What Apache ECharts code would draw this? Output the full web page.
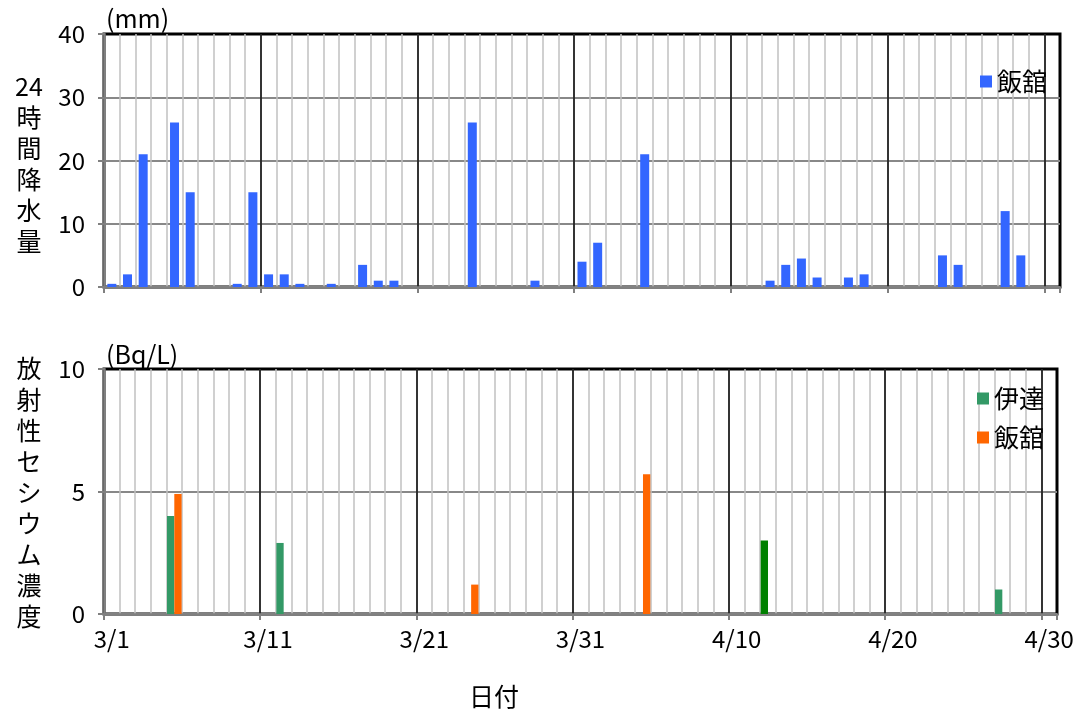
<!DOCTYPE html>
<html>
<head>
<meta charset="utf-8">
<script src="https://cdn.jsdelivr.net/npm/echarts@6/dist/echarts.min.js"></script>
<style>
html,body{margin:0;padding:0;background:#fff;}
#chart{width:1083px;height:711px;}
</style>
</head>
<body>
<div id="chart"></div>
<script>
// ---- data ----
const days = [
  '3/1','3/2','3/3','3/4','3/5','3/6','3/7','3/8','3/9','3/10',
  '3/11','3/12','3/13','3/14','3/15','3/16','3/17','3/18','3/19','3/20',
  '3/21','3/22','3/23','3/24','3/25','3/26','3/27','3/28','3/29','3/30',
  '3/31','4/1','4/2','4/3','4/4','4/5','4/6','4/7','4/8','4/9',
  '4/10','4/11','4/12','4/13','4/14','4/15','4/16','4/17','4/18','4/19',
  '4/20','4/21','4/22','4/23','4/24','4/25','4/26','4/27','4/28','4/29',
  '4/30'
];
// 24-hour precipitation at Iitate (mm)
const rainIitate = [
  0.5, 2, 21, 0, 26, 15, 0, 0, 0.5, 15,
  2, 2, 0.5, 0, 0.5, 0, 3.5, 1, 1, 0,
  0, 0, 0, 26, 0, 0, 0, 1, 0, 0,
  4, 7, 0, 0, 21, 0, 0, 0, 0, 0,
  0, 0, 1, 3.5, 4.5, 1.5, 0, 1.5, 2, 0,
  0, 0, 0, 5, 3.5, 0, 0, 12, 5, 0,
  0
];
// radioactive cesium concentration (Bq/L)
const csDate = [
  null, null, null, null, 4.0, null, null, null, null, null,
  null, 2.9, null, null, null, null, null, null, null, null,
  null, null, null, null, null, null, null, null, null, null,
  null, null, null, null, null, null, null, null, null, null,
  null, null, 3.0, null, null, null, null, null, null, null,
  null, null, null, null, null, null, null, 1.0, null, null,
  null
];
const csIitate = [
  null, null, null, null, 4.9, null, null, null, null, null,
  null, null, null, null, null, null, null, null, null, null,
  null, null, null, 1.2, null, null, null, null, null, null,
  null, null, null, null, 5.7, null, null, null, null, null,
  null, null, null, null, null, null, null, null, null, null,
  null, null, null, null, null, null, null, null, null, null,
  null
];
const seriesNames = ['飯舘', '伊達', '飯舘'];
const rainTicks = {min: 0, max: 40, interval: 10};
const csTicks = {min: 0, max: 10, interval: 5};

// ---- chart ----
const FONT = '"Noto Sans CJK JP", "Noto Sans", sans-serif';
const darkGreenIndex = 42; // 4/12 bar drawn in a darker green in the original

function xAxes(gridIndex, showLabels) {
  return [
    {
      type: 'category', gridIndex, data: days, position: 'bottom', boundaryGap: true,
      axisLine: {show: false}, axisTick: {show: false}, axisLabel: {show: false},
      splitLine: {show: true, interval: 0, showMaxLine: false, lineStyle: {color: '#c0c0c0', width: 1.5}}
    },
    {
      type: 'category', gridIndex, data: days, position: 'bottom', boundaryGap: true,
      axisLine: {show: true, lineStyle: {color: '#808080', width: 2.5}},
      axisTick: {show: true, interval: 9, length: 6, lineStyle: {color: '#808080', width: 2}},
      axisLabel: {show: showLabels, interval: 9, margin: 13, color: '#000', fontSize: 24, fontFamily: FONT},
      splitLine: {show: true, interval: 9, showMaxLine: false, lineStyle: {color: '#000', width: 1.5}}
    }
  ];
}
function yAxis(gridIndex, t) {
  return {
    type: 'value', gridIndex, min: t.min, max: t.max, interval: t.interval,
    axisLine: {show: true, lineStyle: {color: '#808080', width: 2.5}},
    axisTick: {show: true, length: 6, lineStyle: {color: '#808080', width: 2}},
    axisLabel: {color: '#000', fontSize: 24, margin: 19, fontFamily: FONT},
    splitLine: {show: true, showMaxLine: false, lineStyle: {color: '#888888', width: 2}}
  };
}
function vtext(s) { return s.join('\n'); }

const chart = echarts.init(document.getElementById('chart'), null, {renderer: 'canvas'});
chart.setOption({
  animation: false,
  backgroundColor: '#fff',
  textStyle: {fontFamily: FONT},
  grid: [
    {left: 104, top: 34, width: 956, height: 253, show: true, borderColor: '#000', borderWidth: 3, backgroundColor: 'transparent'},
    {left: 104, top: 369, width: 953, height: 245, show: true, borderColor: '#000', borderWidth: 3, backgroundColor: 'transparent'}
  ],
  xAxis: [...xAxes(0, false), ...xAxes(1, true)],
  yAxis: [yAxis(0, rainTicks), yAxis(1, csTicks)],
  legend: [
    {
      data: [seriesNames[0]], left: 975, top: 64, orient: 'vertical',
      icon: 'rect', itemWidth: 12, itemHeight: 12,
      textStyle: {fontSize: 25, color: '#000', fontFamily: FONT}
    },
    {
      data: ['伊達', '飯舘(Cs)'], left: 972, top: 381, orient: 'vertical', itemGap: 14,
      icon: 'rect', itemWidth: 12, itemHeight: 12,
      formatter: n => n.replace('(Cs)', ''),
      textStyle: {fontSize: 25, color: '#000', fontFamily: FONT}
    }
  ],
  series: [
    {
      name: seriesNames[0], type: 'bar', xAxisIndex: 1, yAxisIndex: 0,
      data: rainIitate, barWidth: 9,
      itemStyle: {color: '#3366ff'}
    },
    {
      name: seriesNames[1], type: 'bar', xAxisIndex: 3, yAxisIndex: 1,
      data: csDate.map((v, i) => (i === darkGreenIndex && v != null) ? {value: v, itemStyle: {color: '#008000'}} : v),
      barWidth: 7.3, barGap: '0%',
      itemStyle: {color: '#339966'}
    },
    {
      name: seriesNames[2] + '(Cs)', type: 'bar', xAxisIndex: 3, yAxisIndex: 1,
      data: csIitate, barWidth: 7.3, barGap: '0%',
      itemStyle: {color: '#ff6600'}
    }
  ],
  graphic: [
    {type: 'text', x: 106, y: 6, style: {text: '(mm)', font: '25px ' + FONT, fill: '#000', align: 'left', textAlign: 'left', verticalAlign: 'top', textVerticalAlign: 'top'}},
    {type: 'text', x: 106, y: 342, style: {text: '(Bq/L)', font: '25px ' + FONT, fill: '#000', align: 'left', textAlign: 'left', verticalAlign: 'top', textVerticalAlign: 'top'}},
    {type: 'text', x: 29, y: 164, style: {text: vtext(['24','時','間','降','水','量']), font: '25px ' + FONT, lineHeight: 31, fill: '#000', align: 'center', textAlign: 'center', verticalAlign: 'middle', textVerticalAlign: 'middle'}},
    {type: 'text', x: 29, y: 492, style: {text: vtext(['放','射','性','セ','シ','ウ','ム','濃','度']), font: '25px ' + FONT, lineHeight: 31, fill: '#000', align: 'center', textAlign: 'center', verticalAlign: 'middle', textVerticalAlign: 'middle'}},
    {type: 'text', x: 494, y: 696, style: {text: '日付', font: '25px ' + FONT, fill: '#000', align: 'center', textAlign: 'center', verticalAlign: 'middle', textVerticalAlign: 'middle'}}
  ]
});
</script>
</body>
</html>
